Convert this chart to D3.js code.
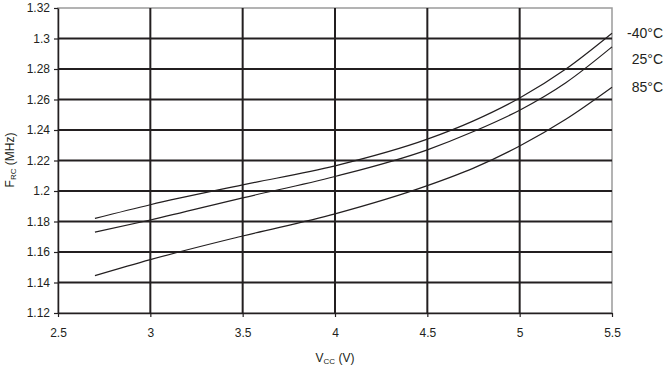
<!DOCTYPE html>
<html lang="en">
<head>
<meta charset="utf-8">
<title>FRC vs VCC</title>
<script src="https://d3js.org/d3.v7.min.js"></script>
<style>
  body { margin: 0; background: #fff; }
  text { font-family: "Liberation Sans", Arial, sans-serif; fill: #231f20; }
</style>
</head>
<body>
<script>
// data
var vcc = [2.7, 3.0, 3.5, 4.0, 4.5, 4.75, 5.0, 5.25, 5.5];
var fMinus40 = [1.182, 1.191, 1.204, 1.2165, 1.234, 1.246, 1.261, 1.280, 1.3035];
var f25 = [1.173, 1.181, 1.1955, 1.2095, 1.227, 1.239, 1.253, 1.271, 1.2945];
var f85 = [1.1445, 1.155, 1.1705, 1.185, 1.2035, 1.215, 1.2295, 1.247, 1.268];
var seriesNames = ["-40°C", "25°C", "85°C"];
var xTicks = [2.5, 3, 3.5, 4, 4.5, 5, 5.5];
var yTicks = [1.12, 1.14, 1.16, 1.18, 1.2, 1.22, 1.24, 1.26, 1.28, 1.3, 1.32];

var w = 665, h = 370;
var padL = 58, padR = 612, padT = 8, padB = 313;

var xScale = d3.scaleLinear().domain([2.5, 5.5]).range([padL, padR]);
var yScale = d3.scaleLinear().domain([1.12, 1.32]).range([padB, padT]);

var svg = d3.select("body").append("svg").attr("width", w).attr("height", h);

// frame: top and right in grey
svg.append("rect").attr("x", padL).attr("y", padT)
  .attr("width", padR - padL).attr("height", padB - padT)
  .attr("fill", "none").attr("stroke", "#9a9a9a").attr("stroke-width", 1.5);

// grid
svg.append("g").selectAll("line").data(yTicks.slice(1, -1)).enter().append("line")
  .attr("x1", padL).attr("x2", padR)
  .attr("y1", d => yScale(d)).attr("y2", d => yScale(d))
  .attr("stroke", "#231f20").attr("stroke-width", 2);
svg.append("g").selectAll("line").data(xTicks.slice(1, -1)).enter().append("line")
  .attr("y1", padT).attr("y2", padB)
  .attr("x1", d => xScale(d)).attr("x2", d => xScale(d))
  .attr("stroke", "#231f20").attr("stroke-width", 2);

// axes
var xAxis = d3.axisBottom(xScale).tickValues(xTicks).tickFormat(d3.format("")).tickSizeInner(4).tickSizeOuter(0).tickPadding(11);
var yAxis = d3.axisLeft(yScale).tickValues(yTicks).tickFormat(d3.format("")).tickSizeInner(4).tickSizeOuter(0).tickPadding(4);

var gx = svg.append("g").attr("transform", `translate(0,${padB})`).call(xAxis);
var gy = svg.append("g").attr("transform", `translate(${padL},0)`).call(yAxis);
[gx, gy].forEach(function (g) {
  g.select(".domain").attr("stroke", "#231f20").attr("stroke-width", 1.5);
  g.selectAll(".tick line").attr("stroke", "#231f20").attr("stroke-width", 1.2);
  g.selectAll(".tick text").attr("font-size", 12).attr("fill", "#231f20")
    .attr("font-family", "'Liberation Sans', Arial, sans-serif");
});

// curves
var line = d3.line().x(d => xScale(d[0])).y(d => yScale(d[1])).curve(d3.curveMonotoneX);
[fMinus40, f25, f85].forEach(function (vals) {
  svg.append("path").datum(vcc.map((v, i) => [v, vals[i]]))
    .attr("d", line).attr("fill", "none").attr("stroke", "#231f20").attr("stroke-width", 1.2);
});

// legend labels at the right end
var labelY = [33, 59, 87];
svg.append("g").selectAll("text").data(seriesNames).enter().append("text")
  .attr("x", 663).attr("y", (d, i) => labelY[i]).attr("dy", "0.35em")
  .attr("text-anchor", "end").attr("font-size", 14).text(d => d);

// axis titles
var xt = svg.append("text").attr("x", 335).attr("y", 362).attr("text-anchor", "middle").attr("font-size", 12);
xt.append("tspan").text("V");
xt.append("tspan").attr("font-size", 8).attr("dy", 2).text("CC");
xt.append("tspan").attr("dy", -2).text(" (V)");

var yt = svg.append("text").attr("transform", "translate(14,160) rotate(-90)")
  .attr("text-anchor", "middle").attr("font-size", 12);
yt.append("tspan").text("F");
yt.append("tspan").attr("font-size", 8).attr("dy", 2).text("RC");
yt.append("tspan").attr("dy", -2).text(" (MHz)");
</script>
</body>
</html>
